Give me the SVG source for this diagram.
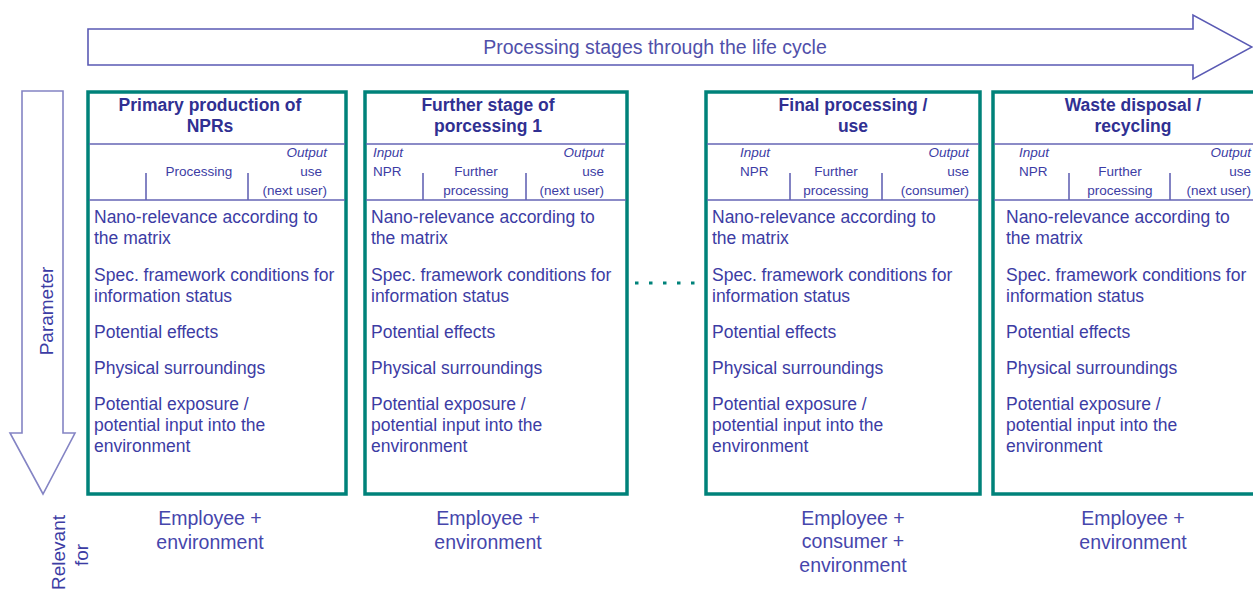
<svg xmlns="http://www.w3.org/2000/svg" width="1253" height="589" viewBox="0 0 1253 589">
<style>
.box{fill:#fff;stroke:#00827a;stroke-width:3.5}
.sep{stroke:#6464b4;stroke-width:1.6;fill:none}
.arrow{fill:#fff;stroke:#5a5ab4;stroke-width:1.6}
.arrowL{fill:#fff;stroke:#8484c4;stroke-width:1.6}
.title{font-family:"Liberation Sans",Arial,sans-serif;font-weight:bold;font-size:17.5px;fill:#303092;text-anchor:middle}
.body{font-family:"Liberation Sans",Arial,sans-serif;font-size:17.5px;fill:#3c3ca4}
.small{font-family:"Liberation Sans Narrow","Liberation Sans",Arial,sans-serif;font-size:13.5px;fill:#3c3ca4}
.it{font-style:italic}
.mid{text-anchor:middle}
.end{text-anchor:end}
.rel{font-family:"Liberation Sans",Arial,sans-serif;font-size:19.5px;fill:#4646ac;text-anchor:middle}
.side{font-family:"Liberation Sans",Arial,sans-serif;font-size:19px;fill:#3c3ca4}
</style>

<g id="stage-arrow">
<polygon class="arrow" points="88,29 1193,29 1193,15 1252,47 1193,79 1193,65 88,65"/>
<text class="rel" x="655" y="54" style="font-size:19.5px;fill:#5050aa">Processing stages through the life cycle</text>
</g>

<g id="parameter-arrow">
<polygon class="arrowL" points="22,91 63,91 63,433 75,433 43,494 10,433 22,433"/>
<text class="side" text-anchor="middle" transform="translate(53,311) rotate(-90)">Parameter</text>
</g>

<g id="relevant-label">
<text class="side" text-anchor="end" transform="translate(65,515) rotate(-90)">Relevant</text>
<text class="side" transform="translate(88,566) rotate(-90)">for</text>
</g>

<g id="stage-1">
<rect class="box" x="88" y="92" width="258" height="402"/>
<line class="sep" x1="89" y1="144" x2="345" y2="144"/>
<line class="sep" x1="89" y1="200" x2="345" y2="200"/>
<line class="sep" x1="146" y1="173" x2="146" y2="200"/>
<line class="sep" x1="248" y1="173" x2="248" y2="200"/>
<text class="title" x="210" y="111">Primary production of</text>
<text class="title" x="210" y="132">NPRs</text>
<text class="small mid" x="199" y="176">Processing</text>
<text class="small it end" x="327" y="157">Output</text>
<text class="small end" x="322" y="176">use</text>
<text class="small end" x="327" y="195">(next user)</text>
<text class="body"><tspan x="94" y="223">Nano-relevance according to</tspan><tspan x="94" y="244">the matrix</tspan><tspan x="94" y="281">Spec. framework conditions for</tspan><tspan x="94" y="302">information status</tspan><tspan x="94" y="338">Potential effects</tspan><tspan x="94" y="374">Physical surroundings</tspan><tspan x="94" y="410">Potential exposure /</tspan><tspan x="94" y="431">potential input into the</tspan><tspan x="94" y="452">environment</tspan></text>
<text class="rel"><tspan x="210" y="525">Employee +</tspan><tspan x="210" y="549">environment</tspan></text>
</g>

<g id="stage-2">
<rect class="box" x="365" y="92" width="262" height="402"/>
<line class="sep" x1="366" y1="144" x2="626" y2="144"/>
<line class="sep" x1="366" y1="200" x2="626" y2="200"/>
<line class="sep" x1="423" y1="173" x2="423" y2="200"/>
<line class="sep" x1="526" y1="173" x2="526" y2="200"/>
<text class="title" x="488" y="111">Further stage of</text>
<text class="title" x="488" y="132">porcessing 1</text>
<text class="small it" x="373" y="157">Input</text>
<text class="small" x="373" y="176">NPR</text>
<text class="small mid" x="476" y="176">Further</text>
<text class="small mid" x="476" y="195">processing</text>
<text class="small it end" x="604" y="157">Output</text>
<text class="small end" x="604" y="176">use</text>
<text class="small end" x="604" y="195">(next user)</text>
<text class="body"><tspan x="371" y="223">Nano-relevance according to</tspan><tspan x="371" y="244">the matrix</tspan><tspan x="371" y="281">Spec. framework conditions for</tspan><tspan x="371" y="302">information status</tspan><tspan x="371" y="338">Potential effects</tspan><tspan x="371" y="374">Physical surroundings</tspan><tspan x="371" y="410">Potential exposure /</tspan><tspan x="371" y="431">potential input into the</tspan><tspan x="371" y="452">environment</tspan></text>
<text class="rel"><tspan x="488" y="525">Employee +</tspan><tspan x="488" y="549">environment</tspan></text>
</g>

<g id="stage-3">
<rect class="box" x="706" y="92" width="274" height="402"/>
<line class="sep" x1="707" y1="144" x2="979" y2="144"/>
<line class="sep" x1="707" y1="200" x2="979" y2="200"/>
<line class="sep" x1="790" y1="173" x2="790" y2="200"/>
<line class="sep" x1="882" y1="173" x2="882" y2="200"/>
<text class="title" x="853" y="111">Final processing /</text>
<text class="title" x="853" y="132">use</text>
<text class="small it" x="740" y="157">Input</text>
<text class="small" x="740" y="176">NPR</text>
<text class="small mid" x="836" y="176">Further</text>
<text class="small mid" x="836" y="195">processing</text>
<text class="small it end" x="969" y="157">Output</text>
<text class="small end" x="969" y="176">use</text>
<text class="small end" x="969" y="195">(consumer)</text>
<text class="body"><tspan x="712" y="223">Nano-relevance according to</tspan><tspan x="712" y="244">the matrix</tspan><tspan x="712" y="281">Spec. framework conditions for</tspan><tspan x="712" y="302">information status</tspan><tspan x="712" y="338">Potential effects</tspan><tspan x="712" y="374">Physical surroundings</tspan><tspan x="712" y="410">Potential exposure /</tspan><tspan x="712" y="431">potential input into the</tspan><tspan x="712" y="452">environment</tspan></text>
<text class="rel"><tspan x="853" y="525">Employee +</tspan><tspan x="853" y="548">consumer +</tspan><tspan x="853" y="572">environment</tspan></text>
</g>

<g id="stage-4">
<rect class="box" x="993" y="92" width="280" height="402"/>
<line class="sep" x1="994" y1="144" x2="1253" y2="144"/>
<line class="sep" x1="994" y1="200" x2="1253" y2="200"/>
<line class="sep" x1="1069" y1="173" x2="1069" y2="200"/>
<line class="sep" x1="1170" y1="173" x2="1170" y2="200"/>
<text class="title" x="1133" y="111">Waste disposal /</text>
<text class="title" x="1133" y="132">recycling</text>
<text class="small it" x="1019" y="157">Input</text>
<text class="small" x="1019" y="176">NPR</text>
<text class="small mid" x="1120" y="176">Further</text>
<text class="small mid" x="1120" y="195">processing</text>
<text class="small it end" x="1251" y="157">Output</text>
<text class="small end" x="1251" y="176">use</text>
<text class="small end" x="1251" y="195">(next user)</text>
<text class="body"><tspan x="1006" y="223">Nano-relevance according to</tspan><tspan x="1006" y="244">the matrix</tspan><tspan x="1006" y="281">Spec. framework conditions for</tspan><tspan x="1006" y="302">information status</tspan><tspan x="1006" y="338">Potential effects</tspan><tspan x="1006" y="374">Physical surroundings</tspan><tspan x="1006" y="410">Potential exposure /</tspan><tspan x="1006" y="431">potential input into the</tspan><tspan x="1006" y="452">environment</tspan></text>
<text class="rel"><tspan x="1133" y="525">Employee +</tspan><tspan x="1133" y="549">environment</tspan></text>
</g>

<g id="connectors">
<line x1="635" y1="283" x2="695" y2="283" stroke="#00827a" stroke-width="3" stroke-dasharray="3.5 10.5"/>
</g>
</svg>
